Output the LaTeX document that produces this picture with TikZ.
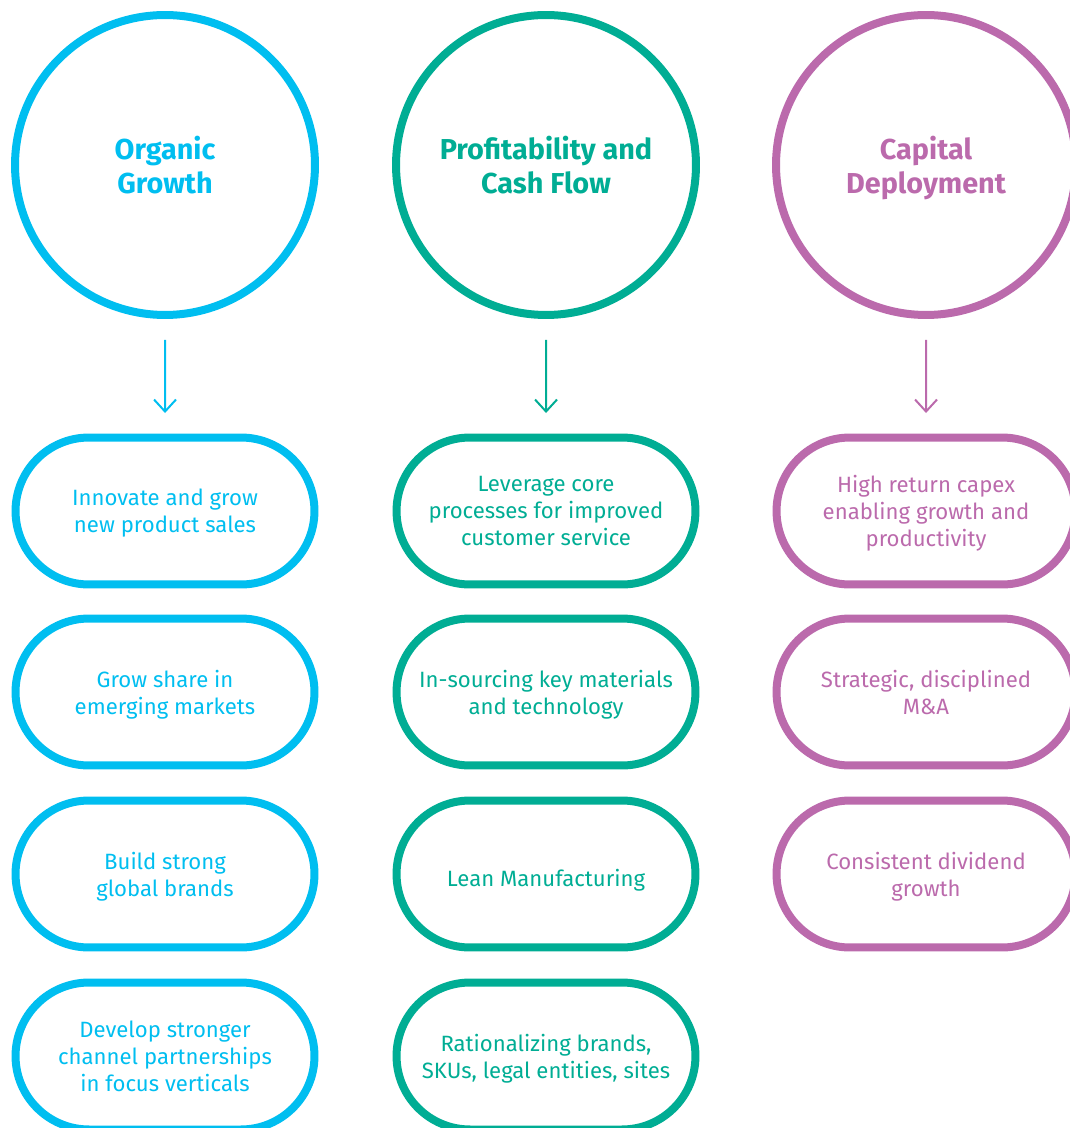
\documentclass[tikz,border=0pt]{standalone}
\usepackage{fontspec}
\setmainfont{Fira Sans}
\usetikzlibrary{arrows.meta}
\usetikzlibrary{shapes.misc}
\definecolor{skyblue}{RGB}{0,190,240}
\definecolor{seagreen}{RGB}{0,173,148}
\definecolor{orchid}{RGB}{187,106,172}

\begin{document}
\begin{tikzpicture}[x=0.02cm,y=-0.02cm,
  goal/.style={circle,draw,line width=0.16cm,minimum size=6cm,inner sep=0pt,align=center,
    font=\fontsize{16.4}{19.4}\selectfont\bfseries,text depth=0pt,
    execute at begin node={\rule{0pt}{1.05em}}},
  lever/.style={rounded rectangle,draw,line width=0.16cm,minimum width=5.98cm,minimum height=2.94cm,
    inner sep=0pt,align=center,font=\fontsize{12.6}{15.3}\selectfont,text depth=0pt,
    execute at begin node={\rule{0pt}{1.1em}}},
  link/.style={line width=0.04cm,-{Straight Barb[length=0.24cm,width=0.44cm]},shorten <=0.42cm,shorten >=0.41cm}]
\useasboundingbox (0,0) rectangle (1070,1128);
\clip (0,0) rectangle (1070,1128);

% organic growth
\node [goal,skyblue] (og) at (165,165) {Organic\\Growth};
\node [lever,skyblue] (og1) at (165,511) {Innovate and grow\\new product sales};
\node [lever,skyblue] (og2) at (165,692) {Grow share in\\emerging markets};
\node [lever,skyblue] (og3) at (165,874) {Build strong\\global brands};
\node [lever,skyblue] (og4) at (165,1056) {Develop stronger\\channel partnerships\\in focus verticals};
\draw [link,skyblue] (og) -- (og1);

% profitability
\node [goal,seagreen] (pc) at (546,165) {Profitability and\\Cash Flow};
\node [lever,seagreen] (pc1) at (546,511) {Leverage core\\processes for improved\\customer service};
\node [lever,seagreen] (pc2) at (546,692) {In-sourcing key materials\\and technology};
\node [lever,seagreen] (pc3) at (546,874) {Lean Manufacturing};
\node [lever,seagreen] (pc4) at (546,1056) {Rationalizing brands,\\SKUs, legal entities, sites};
\draw [link,seagreen] (pc) -- (pc1);

% capital deployment
\node [goal,orchid] (cd) at (926,165) {Capital\\Deployment};
\node [lever,orchid] (cd1) at (926,511) {High return capex\\enabling growth and\\productivity};
\node [lever,orchid] (cd2) at (926,692) {Strategic, disciplined\\M\&A};
\node [lever,orchid] (cd3) at (926,874) {Consistent dividend\\growth};
\draw [link,orchid] (cd) -- (cd1);
\end{tikzpicture}
\end{document}
